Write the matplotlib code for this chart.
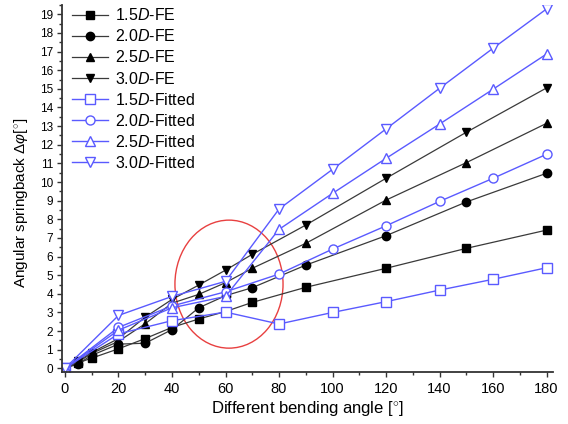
import matplotlib
matplotlib.use("Agg")
import matplotlib.pyplot as plt
from matplotlib.patches import Ellipse
from matplotlib.ticker import MultipleLocator

plt.rcParams['font.family'] = ['Liberation Sans', 'DejaVu Sans']
plt.rcParams['mathtext.fontset'] = 'custom'
plt.rcParams['mathtext.rm'] = 'Liberation Sans'
plt.rcParams['mathtext.it'] = 'Liberation Sans:italic'

# FE data
x_fe = [0, 5, 10, 20, 30, 40, 50, 60, 70, 90, 120, 150, 180]
fe_15 = [0, 0.30, 0.55, 1.05, 1.60, 2.20, 2.65, 3.05, 3.54, 4.35, 5.37, 6.44, 7.42]
fe_20 = [0, 0.25, 0.70, 1.30, 1.35, 2.08, 3.25, 3.90, 4.33, 5.54, 7.12, 8.93, 10.47]
fe_25 = [0, 0.35, 0.80, 1.45, 2.40, 3.50, 3.97, 4.60, 5.37, 6.71, 9.03, 11.04, 13.15]
fe_30 = [0, 0.40, 0.85, 1.60, 2.75, 3.70, 4.47, 5.27, 6.12, 7.69, 10.20, 12.67, 15.05]

# Fitted data
x_fit = [0, 20, 40, 60, 80, 100, 120, 140, 160, 180]
fit_15 = [0, 1.85, 2.56, 3.02, 2.38, 3.00, 3.58, 4.20, 4.78, 5.40]
fit_20 = [0, 2.20, 3.35, 4.11, 5.06, 6.40, 7.65, 8.96, 10.20, 11.49]
fit_25 = [0, 2.05, 3.25, 3.86, 7.46, 9.39, 11.27, 13.11, 14.98, 16.87]
fit_30 = [0, 2.84, 3.86, 4.67, 8.55, 10.68, 12.85, 15.03, 17.18, 19.29]

labels_fe = ['1.5$\\mathit{D}$-FE', '2.0$\\mathit{D}$-FE', '2.5$\\mathit{D}$-FE', '3.0$\\mathit{D}$-FE']
labels_fit = ['1.5$\\mathit{D}$-Fitted', '2.0$\\mathit{D}$-Fitted', '2.5$\\mathit{D}$-Fitted', '3.0$\\mathit{D}$-Fitted']
markers = ['s', 'o', '^', 'v']

fig = plt.figure(figsize=(5.68, 4.24), dpi=100)
ax = fig.add_axes([0.1092, 0.1233, 0.8644, 0.8649])

blue = '#5a5aff'
for y, lab, m in zip([fe_15, fe_20, fe_25, fe_30], labels_fe, markers):
    ax.plot(x_fe, y, color='#3a3a3a', lw=0.9, marker=m, ms=6,
            mfc='black', mec='black', label=lab)
for y, lab, m in zip([fit_15, fit_20, fit_25, fit_30], labels_fit, markers):
    ax.plot(x_fit, y, color=blue, lw=1.0, marker=m, ms=6.5,
            mfc='white', mec=blue, mew=1.0, label=lab)

ax.add_patch(Ellipse((61.3, 4.52), 40.4, 6.87, fill=False, ec='#e84040', lw=1.0))

ax.set_xlim(-1.1, 182.4)
ax.set_ylim(-0.18, 19.5)
ax.xaxis.set_major_locator(MultipleLocator(20))
ax.xaxis.set_minor_locator(MultipleLocator(10))
ax.yaxis.set_major_locator(MultipleLocator(1))
ax.yaxis.set_minor_locator(MultipleLocator(0.5))

for s in ['top', 'right']:
    ax.spines[s].set_visible(False)
for s in ['left', 'bottom']:
    ax.spines[s].set_linewidth(1.3)
    ax.spines[s].set_color('#333333')

ax.tick_params(axis='both', which='major', direction='out', length=3.5, width=1.0, color='#333333')
ax.tick_params(axis='both', which='minor', direction='out', length=2, width=1.0, color='#333333')
ax.tick_params(axis='x', which='major', labelsize=10.5, pad=4)
ax.tick_params(axis='y', which='major', labelsize=8.5, pad=3)

ax.set_xlabel('Different bending angle [$^{\\circ}$]', fontsize=12, labelpad=2)
ax.set_ylabel('Angular springback $\\Delta\\varphi$[$^{\\circ}$]', fontsize=11)
ax.yaxis.set_label_coords(-0.066, 0.46)

ax.legend(loc='upper left', bbox_to_anchor=(0.0, 1.02), frameon=False, fontsize=11.5,
          handlelength=2.3, handletextpad=0.4, labelspacing=0.32, borderaxespad=0.2)

fig.savefig('out.png', dpi=100)
